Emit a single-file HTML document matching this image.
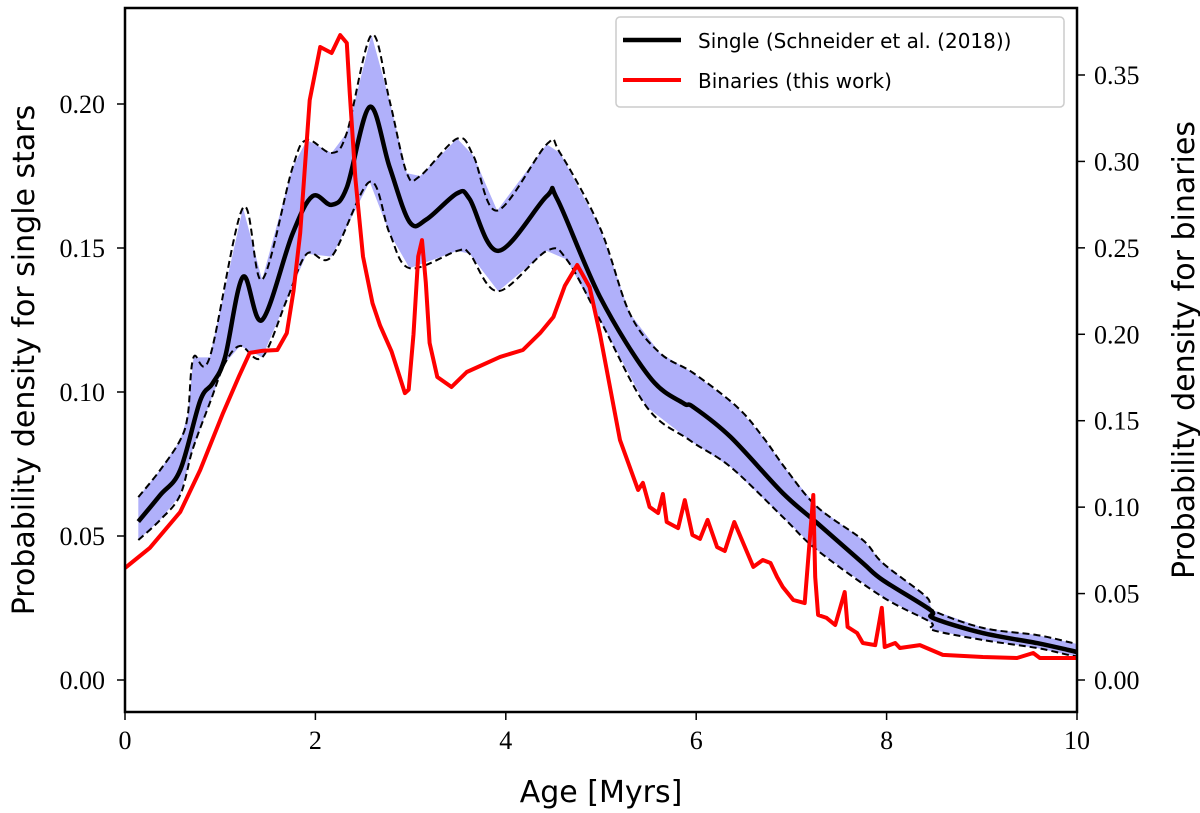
<!DOCTYPE html>
<html><head><meta charset="utf-8"><style>
html,body{margin:0;padding:0;background:#fff;}
svg{display:block;}
.tk{font-family:"Liberation Serif",serif;font-size:26px;fill:#000;}
.ttl{font-family:"DejaVu Sans","Liberation Sans",sans-serif;font-size:30px;fill:#000;}
.lg{font-family:"DejaVu Sans","Liberation Sans",sans-serif;font-size:20px;fill:#000;}
</style></head><body>
<svg id="chart" width="1200" height="813" viewBox="0 0 1200 813">
<g id="plot"></g>
</svg>
<script>
const xTicks=[0,2,4,6,8,10];
const leftTicks=[0.00,0.05,0.10,0.15,0.20];
const rightTicks=[0.00,0.05,0.10,0.15,0.20,0.25,0.30,0.35];
const singleAge=[0.14,0.37,0.58,0.79,0.92,1.05,1.24,1.44,1.76,1.97,2.17,2.33,2.57,2.78,2.99,3.17,3.49,3.62,3.92,4.43,4.54,4.99,5.51,5.86,5.97,6.36,6.91,7.27,7.75,7.96,8.46,8.49,9.01,9.58,9.91,10.0];
const singleMed=[0.055,0.0642,0.0729,0.097,0.103,0.112,0.140,0.125,0.155,0.168,0.165,0.171,0.199,0.178,0.159,0.160,0.169,0.167,0.149,0.168,0.167,0.133,0.1052,0.0962,0.0948,0.0844,0.0649,0.0545,0.0406,0.0347,0.0243,0.0215,0.0163,0.0128,0.0104,0.0097];
const upperAge=[0.14,0.37,0.58,0.66,0.72,0.89,1.24,1.44,1.76,1.91,2.17,2.33,2.59,2.78,2.96,3.10,3.49,3.66,3.91,4.43,4.57,4.99,5.30,5.62,5.97,6.43,6.70,6.95,7.27,7.75,7.96,8.42,8.48,9.01,9.58,9.91,10.0];
const upperVal=[0.0635,0.0729,0.0833,0.092,0.112,0.112,0.164,0.139,0.178,0.1875,0.183,0.190,0.224,0.201,0.176,0.175,0.188,0.182,0.163,0.186,0.183,0.157,0.1274,0.1135,0.1066,0.0948,0.0844,0.0729,0.0601,0.0486,0.0406,0.0288,0.0243,0.0181,0.0156,0.0132,0.0125];
const lowerAge=[0.14,0.37,0.58,0.71,0.90,1.05,1.21,1.44,1.70,1.91,2.17,2.57,2.78,2.99,3.49,3.62,3.92,4.43,4.64,4.99,5.48,5.93,6.36,6.91,7.27,7.96,8.46,8.48,9.01,9.58,9.91,10.0];
const lowerVal=[0.0486,0.0556,0.0642,0.080,0.097,0.110,0.116,0.112,0.132,0.148,0.147,0.173,0.155,0.143,0.149,0.148,0.135,0.149,0.146,0.125,0.0948,0.0833,0.0740,0.0566,0.0451,0.0288,0.0201,0.0174,0.0139,0.0111,0.0087,0.0082];
const binAge=[0,0.26,0.58,0.79,1.03,1.20,1.31,1.45,1.60,1.70,1.77,1.84,1.94,2.05,2.17,2.26,2.33,2.36,2.42,2.50,2.60,2.68,2.80,2.94,2.98,3.03,3.08,3.12,3.16,3.20,3.28,3.43,3.59,3.94,4.18,4.36,4.50,4.62,4.75,4.88,4.99,5.20,5.39,5.44,5.51,5.60,5.65,5.69,5.81,5.88,5.96,6.04,6.12,6.22,6.30,6.40,6.48,6.60,6.70,6.78,6.85,6.91,7.02,7.14,7.23,7.25,7.28,7.37,7.46,7.56,7.59,7.69,7.75,7.88,7.95,7.98,8.09,8.14,8.35,8.59,9.01,9.37,9.54,9.61,9.91,10.0];
const binVal=[0.0648,0.0764,0.0972,0.1215,0.1545,0.176,0.1892,0.1905,0.1909,0.2007,0.225,0.2586,0.3355,0.3662,0.3627,0.3731,0.3685,0.340,0.290,0.245,0.218,0.205,0.190,0.1660,0.168,0.200,0.245,0.2545,0.230,0.195,0.1753,0.1695,0.1782,0.1869,0.1909,0.2007,0.2100,0.228,0.2401,0.2273,0.200,0.1388,0.1099,0.1140,0.1001,0.0966,0.1076,0.0914,0.0879,0.1041,0.0839,0.0816,0.0926,0.0769,0.0746,0.0914,0.0810,0.0654,0.0694,0.0677,0.0596,0.0538,0.0463,0.0445,0.1070,0.0596,0.0376,0.0359,0.0318,0.0509,0.0307,0.0272,0.0214,0.0202,0.0417,0.0191,0.0214,0.0185,0.0202,0.0145,0.0133,0.0127,0.0156,0.0127,0.0127,0.0127];

const L=125,R=1077,T=8,B=712;
const xs=a=>L+a*(R-L)/10;
const yl=v=>680-v*2880;
const yr=v=>680-v*1728.6;
const NS="http://www.w3.org/2000/svg";
const svg=document.getElementById('chart');
const g=document.getElementById('plot');
function mk(tag,attrs,parent){const e=document.createElementNS(NS,tag);for(const k in attrs)e.setAttribute(k,attrs[k]);(parent||g).appendChild(e);return e;}
function smooth(ax,vals,fy){
  const p=ax.map((a,i)=>[xs(a),fy(vals[i])]);
  let d='M'+p[0][0].toFixed(1)+','+p[0][1].toFixed(1);
  for(let i=0;i<p.length-1;i++){
    const p0=p[Math.max(0,i-1)],p1=p[i],p2=p[i+1],p3=p[Math.min(p.length-1,i+2)];
    const c1x=p1[0]+(p2[0]-p0[0])/6,c1y=p1[1]+(p2[1]-p0[1])/6;
    const c2x=p2[0]-(p3[0]-p1[0])/6,c2y=p2[1]-(p3[1]-p1[1])/6;
    d+=' C'+c1x.toFixed(1)+','+c1y.toFixed(1)+' '+c2x.toFixed(1)+','+c2y.toFixed(1)+' '+p2[0].toFixed(1)+','+p2[1].toFixed(1);
  }
  return d;
}
function poly(ax,vals,fy){return ax.map((a,i)=>xs(a).toFixed(1)+','+fy(vals[i]).toFixed(1)).join(' ');}

const bandPts=poly(upperAge,upperVal,yl)+' '+lowerAge.slice().reverse().map((a,i)=>{const v=lowerVal[lowerAge.length-1-i];return xs(a).toFixed(1)+','+yl(v).toFixed(1);}).join(' ');
let e=mk('polygon',{points:bandPts,fill:'#b0b0fa',stroke:'none'});


e=mk('path',{d:smooth(upperAge,upperVal,yl),fill:'none',stroke:'#000','stroke-width':2,'stroke-dasharray':'7,4'});


e=mk('path',{d:smooth(lowerAge,lowerVal,yl),fill:'none',stroke:'#000','stroke-width':2,'stroke-dasharray':'7,4'});


e=mk('path',{d:smooth(singleAge,singleMed,yl),fill:'none',stroke:'#000','stroke-width':4.5,'stroke-linejoin':'round'});


e=mk('polyline',{points:poly(binAge,binVal,yr),fill:'none',stroke:'#ff0000','stroke-width':4,'stroke-linejoin':'round'});



e=mk('rect',{x:L,y:T,width:R-L,height:B-T,fill:'none',stroke:'#000','stroke-width':2.5},svg);


xTicks.forEach(t=>{
  let l=mk('line',{x1:xs(t),x2:xs(t),y1:B,y2:B+8,stroke:'#000','stroke-width':1.5},svg);
  
  
  let tx=mk('text',{x:xs(t),y:B+37,'text-anchor':'middle',class:'tk'},svg);tx.textContent=t;
  
  
});
leftTicks.forEach(t=>{
  let l=mk('line',{x1:L-8,x2:L,y1:yl(t),y2:yl(t),stroke:'#000','stroke-width':1.5},svg);
  
  
  let tx=mk('text',{x:L-20,y:yl(t)+9,'text-anchor':'end',class:'tk'},svg);tx.textContent=t.toFixed(2);
  
  
});
rightTicks.forEach(t=>{
  let l=mk('line',{x1:R,x2:R+8,y1:yr(t),y2:yr(t),stroke:'#000','stroke-width':1.5},svg);
  
  
  let tx=mk('text',{x:R+17,y:yr(t)+9,'text-anchor':'start',class:'tk'},svg);tx.textContent=t.toFixed(2);
  
  
});
</script>
<div style="position:absolute;left:0;top:0;width:1200px;height:813px;pointer-events:none">
<svg width="1200" height="813">
<text class="ttl" x="601" y="802" text-anchor="middle">Age [Myrs]</text>
<text class="ttl" transform="translate(34,360) rotate(-90)" text-anchor="middle">Probability density for single stars</text>
<text class="ttl" transform="translate(1194,350) rotate(-90)" text-anchor="middle">Probability density for binaries</text>
<g>
<rect x="616" y="17" width="448" height="90" rx="4" fill="#fff" stroke="#ccc" stroke-width="1.5"/>
<line x1="623" x2="681" y1="40" y2="40" stroke="#000" stroke-width="4.5"/>
<text class="lg" x="698" y="48">Single (Schneider et al. (2018))</text>
<line x1="623" x2="681" y1="80" y2="80" stroke="#f00" stroke-width="4"/>
<text class="lg" x="698" y="88">Binaries (this work)</text>
</g>
</svg></div>
</body></html>
